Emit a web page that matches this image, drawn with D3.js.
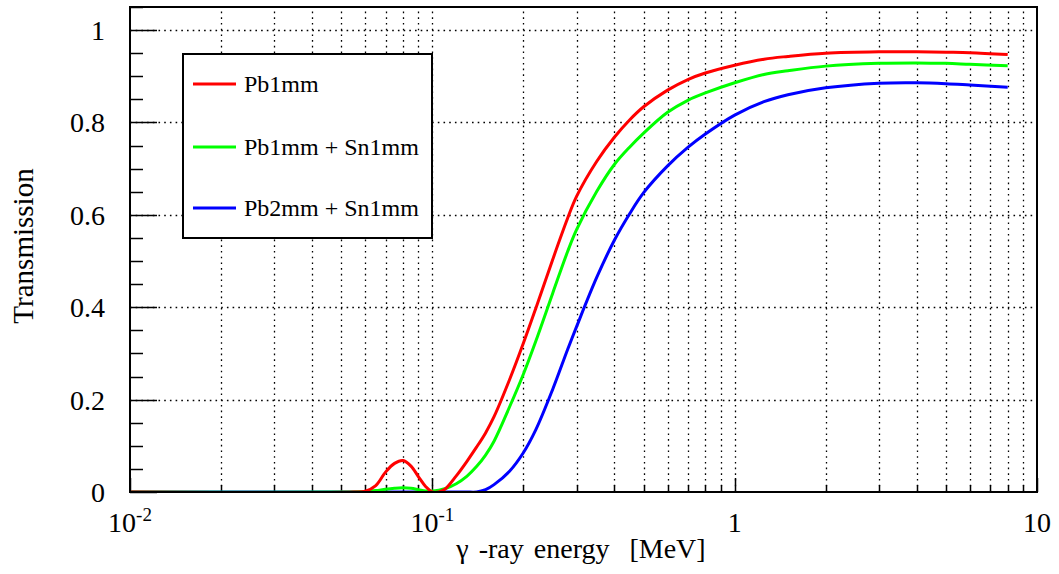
<!DOCTYPE html>
<html>
<head>
<meta charset="utf-8">
<script src="https://cdn.jsdelivr.net/npm/d3@7"></script>
<style>
  html, body { margin: 0; padding: 0; background: #fff; }
  svg { display: block; }
  svg text { font-family: "Liberation Serif", "Times New Roman", Times, serif; fill: #000; white-space: pre; }
</style>
</head>
<body>
<svg id="chart" width="1059" height="574" font-family="Liberation Serif"></svg>
<script>
// Gamma-ray energy samples [MeV]
const energies = [0.01, 0.055, 0.06, 0.065, 0.07, 0.075, 0.08, 0.085, 0.09, 0.095,
  0.1, 0.105, 0.11, 0.12, 0.13, 0.14, 0.15, 0.16, 0.18, 0.2, 0.22, 0.25, 0.28, 0.3,
  0.35, 0.4, 0.45, 0.5, 0.6, 0.7, 0.8, 1.0, 1.25, 1.5, 2, 3, 4, 5, 6, 8];

// Transmission for each shield
const pb1 = [0, 0, 0.002, 0.014, 0.043, 0.062, 0.068, 0.056, 0.033, 0.012,
  0.0, 0.0, 0.006, 0.035, 0.066, 0.097, 0.128, 0.163, 0.243, 0.322, 0.398, 0.503, 0.592, 0.640,
  0.716, 0.768, 0.806, 0.834, 0.870, 0.893, 0.907, 0.924, 0.937, 0.943, 0.950, 0.953, 0.953, 0.952, 0.951, 0.947];
const pb1sn1 = [0, 0, 0.001, 0.003, 0.006, 0.008, 0.009, 0.008, 0.005, 0.002,
  0.002, 0.004, 0.007, 0.018, 0.034, 0.055, 0.080, 0.110, 0.184, 0.255, 0.327, 0.430, 0.520, 0.568,
  0.651, 0.709, 0.747, 0.777, 0.822, 0.848, 0.864, 0.886, 0.904, 0.912, 0.922, 0.928, 0.929, 0.928, 0.926, 0.923];
const pb2sn1 = [0, 0, 0, 0, 0, 0, 0, 0, 0, 0,
  0, 0, 0, 0, 0, 0, 0.005, 0.016, 0.045, 0.085, 0.135, 0.222, 0.308, 0.358,
  0.465, 0.545, 0.603, 0.648, 0.706, 0.746, 0.775, 0.816, 0.845, 0.860, 0.875, 0.885, 0.886, 0.884, 0.881, 0.876];

const seriesNames = ["Pb1mm", "Pb1mm + Sn1mm", "Pb2mm + Sn1mm"];
const seriesColors = ["#ff0000", "#00ff00", "#0000ff"];
const seriesValues = [pb1, pb1sn1, pb2sn1];

const yTickValues = [0, 0.2, 0.4, 0.6, 0.8, 1];
const yTickLabels = ["0", "0.2", "0.4", "0.6", "0.8", "1"];
const xMajorTicks = [0.01, 0.1, 1, 10];
const xTickLabels = [["10", "-2"], ["10", "-1"], ["1", ""], ["10", ""]];
const xTitle = "\u03b3 -ray energy  [MeV]";
const yTitle = "Transmission";

const svg = d3.select("#chart");
const serif = "'Liberation Serif', 'Times New Roman', Times, serif";
const pLeft = 130, pRight = 1037, pTop = 7, pBottom = 492;

const x = d3.scaleLog().domain([0.01, 10]).range([pLeft, pRight]);
const y = d3.scaleLinear().domain([0, 1.05]).range([pBottom, pTop]);

svg.append("rect").attr("width", 1059).attr("height", 574).attr("fill", "#fff");

svg.append("defs").append("clipPath").attr("id", "plot-clip")
  .append("rect").attr("x", pLeft).attr("y", pTop - 2)
  .attr("width", pRight - pLeft).attr("height", pBottom - pTop + 2);

// minor decade values for grid and ticks
const xMinor = [];
[0.01, 0.1, 1].forEach(d => { for (let k = 2; k <= 9; k++) xMinor.push(d * k); });
const xGrid = xMinor.concat([0.1, 1]);

const grid = svg.append("g")
  .attr("stroke", "#000").attr("stroke-width", 1.3)
  .attr("stroke-dasharray", "1.6,4.1").attr("fill", "none");
grid.selectAll("line.v").data(xGrid).join("line")
  .attr("x1", d => Math.round(x(d)) + 0.5).attr("x2", d => Math.round(x(d)) + 0.5)
  .attr("y1", pBottom).attr("y2", pTop);
grid.selectAll("line.h").data(yTickValues.slice(1)).join("line")
  .attr("y1", d => Math.round(y(d)) + 0.5).attr("y2", d => Math.round(y(d)) + 0.5)
  .attr("x1", pLeft).attr("x2", pRight);

// axis ticks (drawn inside the frame)
const ticks = svg.append("g").attr("stroke", "#000").attr("stroke-width", 1.5);
const yMinor = d3.range(0, 1.051, 0.05);
ticks.selectAll("line.ym").data(yMinor).join("line")
  .attr("x1", pLeft).attr("x2", d => pLeft + (Math.abs(d * 5 - Math.round(d * 5)) < 1e-6 ? 27 : 13))
  .attr("y1", d => Math.round(y(d)) + 0.5).attr("y2", d => Math.round(y(d)) + 0.5);
ticks.selectAll("line.xm").data(xMinor).join("line")
  .attr("x1", d => Math.round(x(d)) + 0.5).attr("x2", d => Math.round(x(d)) + 0.5)
  .attr("y1", pBottom).attr("y2", pBottom - 7);
ticks.selectAll("line.xM").data(xMajorTicks).join("line")
  .attr("x1", d => Math.round(x(d)) + 0.5).attr("x2", d => Math.round(x(d)) + 0.5)
  .attr("y1", pBottom).attr("y2", pBottom - 14);

// curves
const line = d3.line()
  .x((d, i) => x(energies[i]))
  .y(d => y(Math.max(0, d)))
  .curve(d3.curveCatmullRom.alpha(0.5));
const order = [2, 1, 0];
svg.append("g").attr("clip-path", "url(#plot-clip)")
  .selectAll("path").data(order).join("path")
  .attr("d", i => line(seriesValues[i]))
  .attr("fill", "none")
  .attr("stroke", i => seriesColors[i])
  .attr("stroke-width", 3)
  .attr("stroke-linejoin", "round");

// frame
svg.append("rect")
  .attr("x", pLeft).attr("y", pTop).attr("width", pRight - pLeft).attr("height", pBottom - pTop)
  .attr("fill", "none").attr("stroke", "#000").attr("stroke-width", 2);

// y tick labels
svg.append("g").selectAll("text").data(yTickValues).join("text")
  .attr("x", 105).attr("y", d => y(d) + 10)
  .attr("text-anchor", "end").attr("font-size", 28).attr("font-family", serif)
  .text((d, i) => yTickLabels[i]);

// x tick labels with superscripted exponents
const xl = svg.append("g").selectAll("text").data(xMajorTicks).join("text")
  .attr("x", d => x(d)).attr("y", 532)
  .attr("text-anchor", "middle").attr("font-size", 28).attr("font-family", serif);
xl.each(function (d, i) {
  const t = d3.select(this);
  t.append("tspan").text(xTickLabels[i][0]);
  if (xTickLabels[i][1]) {
    t.append("tspan").attr("font-size", 19).attr("dy", -11).text(xTickLabels[i][1]);
  }
});

// axis titles
svg.append("text").attr("x", 581).attr("y", 558)
  .attr("text-anchor", "middle").attr("font-size", 28).attr("font-family", serif)
  .attr("word-spacing", 3).text(xTitle);
svg.append("text")
  .attr("transform", "translate(33,246) rotate(-90)")
  .attr("text-anchor", "middle").attr("font-size", 29).attr("font-family", serif)
  .text(yTitle);

// legend
const lg = svg.append("g");
lg.append("rect").attr("x", 183).attr("y", 54).attr("width", 249).attr("height", 184)
  .attr("fill", "#fff").attr("stroke", "#000").attr("stroke-width", 2);
const legendY = [84, 147, 208];
seriesNames.forEach((name, i) => {
  lg.append("line").attr("x1", 193).attr("x2", 236)
    .attr("y1", legendY[i]).attr("y2", legendY[i])
    .attr("stroke", seriesColors[i]).attr("stroke-width", 3);
  lg.append("text").attr("x", 244).attr("y", legendY[i] + 8)
    .attr("font-size", 24).attr("font-family", serif).text(name);
});
</script>
</body>
</html>
